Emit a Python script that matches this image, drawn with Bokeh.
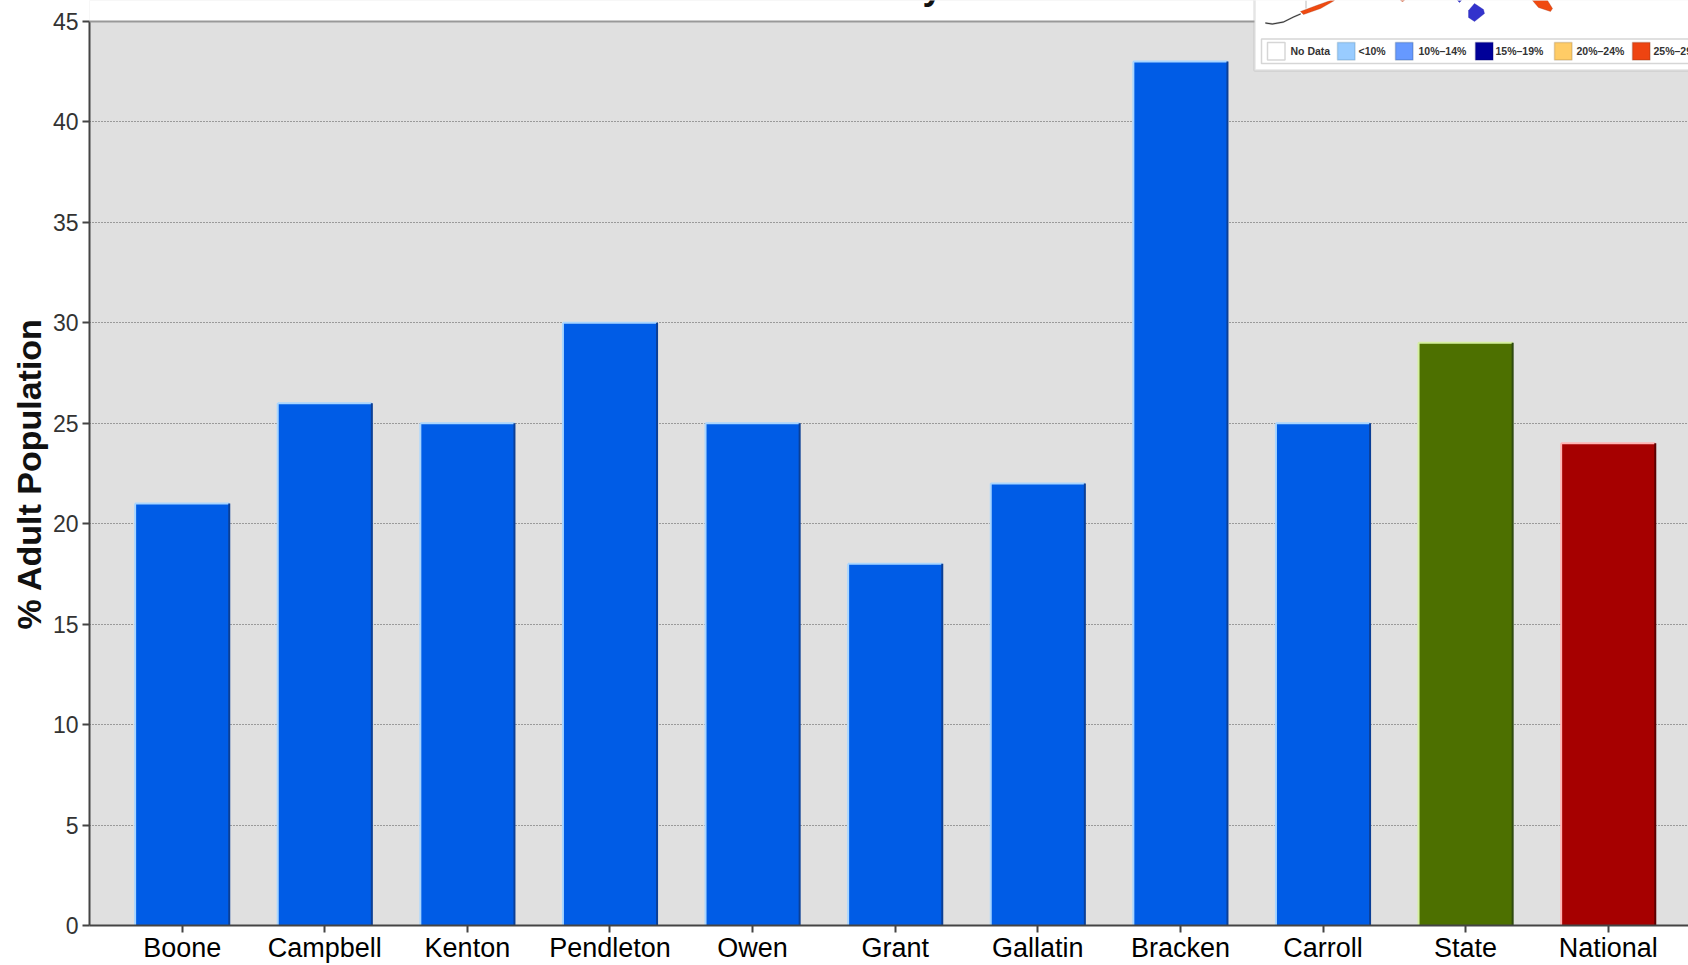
from bokeh.embed import file_html
from bokeh.models import ColumnDataSource, FixedTicker, Label, PolyAnnotation, Range1d, Span, Title
from bokeh.plotting import figure
from bokeh.resources import INLINE

# Chart values
counties = ["Boone", "Campbell", "Kenton", "Pendleton", "Owen", "Grant",
            "Gallatin", "Bracken", "Carroll", "State", "National"]
percent_adults = [21, 26, 25, 30, 25, 18, 22, 43, 25, 29, 24]
fill_colors = ["#005ce6"] * 9 + ["#4d7000", "#a60000"]
light_edges = ["#a9d6ff"] * 9 + ["#d6f0a0", "#ffb4b4"]
dark_edges = ["#0b3f96"] * 9 + ["#2f4a10", "#5c0000"]
y_ticks = [0, 5, 10, 15, 20, 25, 30, 35, 40, 45]
grid_ticks = [5, 10, 15, 20, 25, 30, 35, 40]

# Inset map legend
legend_labels = ["No Data", "<10%", "10%–14%", "15%–19%", "20%–24%", "25%–29%"]
legend_fills = ["#ffffff", "#99ccff", "#6699ff", "#000099", "#ffcc66", "#ee4411"]
legend_borders = ["#777777", "#5588aa", "#335588", "#000066", "#997744", "#883311"]
legend_swatch_x = [1267, 1337, 1395, 1475, 1554, 1632]
legend_text_x = [1290, 1358, 1418, 1495, 1576, 1653]

# Inset map fragments that remain in view
map_shapes = [
    ("#f04a10", "#a03010", [1300, 1316, 1330, 1334, 1320, 1303], [11, 5, 0, 0, 8, 14]),
    ("#3333cc", "#2222aa", [1468, 1474, 1483, 1484, 1474, 1468], [10, 3, 9, 13, 21, 17]),
    ("#f04a10", "#a03010", [1532, 1538, 1550, 1552, 1547], [0, 7, 11, 8, 0]),
    ("#f04a10", "#a03010", [1400, 1404, 1402], [0, 0, 1]),
    ("#3333cc", "#2222aa", [1457, 1461, 1459], [0, 0, 2]),
]
island_chain_x = [1265, 1272, 1283, 1293, 1300]
island_chain_y = [22, 23, 21, 16, 13]

W, H = 1688, 965
LEFT, BOTTOM = 89, 38
X_START, X_END = -0.65, 10.563
Y_TOP = 46.04  # the plot's frame runs to the page top; the strip above 45 is painted white

positions = list(range(len(counties)))
bar_half = 0.33
source = ColumnDataSource(dict(
    x=positions,
    left=[i - bar_half for i in positions],
    right=[i + bar_half for i in positions],
    base=[0] * len(positions),
    top=percent_adults,
    fill=fill_colors,
    light=light_edges,
    dark=dark_edges,
))

p = figure(width=W, height=H, output_backend="svg", toolbar_location=None,
           x_range=Range1d(X_START, X_END), y_range=Range1d(0, Y_TOP),
           min_border_left=LEFT, min_border_right=0,
           min_border_top=0, min_border_bottom=BOTTOM,
           background_fill_color="#e0e0e0", border_fill_color="#ffffff")
p.outline_line_color = None

# Grid
p.xgrid.visible = False
p.ygrid.ticker = FixedTicker(ticks=grid_ticks)
p.ygrid.grid_line_color = "#555555"
p.ygrid.grid_line_dash = "1 2"
p.ygrid.grid_line_width = 1

# White strip above the plot area
p.quad(left=[X_START - 1], right=[X_END + 1], bottom=[45], top=[Y_TOP + 1],
       fill_color="#ffffff", line_color=None)
p.add_layout(Span(location=45, dimension="width", line_color="#999999", line_width=2))

# Bars with bevelled edges
p.vbar(x="x", width=2 * bar_half, bottom="base", top="top", fill_color="fill",
       line_color=None, source=source)
p.segment(x0="left", y0="base", x1="left", y1="top", line_color="light", line_width=2, source=source)
p.segment(x0="left", y0="top", x1="right", y1="top", line_color="light", line_width=2, source=source)
p.segment(x0="right", y0="base", x1="right", y1="top", line_color="dark", line_width=2, source=source)

# Axes
p.yaxis.bounds = (0, 45)
p.yaxis.ticker = FixedTicker(ticks=y_ticks)
p.yaxis.major_label_text_font = "Liberation Sans"
p.yaxis.major_label_text_font_size = "23px"
p.yaxis.major_label_text_color = "#333333"
p.yaxis.major_label_standoff = 4
p.yaxis.major_tick_out = 7
p.yaxis.major_tick_in = 0
p.yaxis.minor_tick_line_color = None
p.yaxis.axis_line_color = "#444444"
p.yaxis.axis_line_width = 2
p.yaxis.major_tick_line_color = "#444444"
p.yaxis.major_tick_line_width = 2

p.xaxis.ticker = FixedTicker(ticks=positions)
p.xaxis.major_label_overrides = {i: name for i, name in enumerate(counties)}
p.xaxis.major_label_text_font = "Liberation Sans"
p.xaxis.major_label_text_font_size = "27px"
p.xaxis.major_label_text_color = "#000000"
p.xaxis.major_label_standoff = 0
p.xaxis.major_tick_out = 7
p.xaxis.major_tick_in = 0
p.xaxis.minor_tick_line_color = None
p.xaxis.axis_line_color = "#444444"
p.xaxis.axis_line_width = 2
p.xaxis.major_tick_line_color = "#444444"
p.xaxis.major_tick_line_width = 2

# Vertical axis title, positioned along the 0-45 span
p.add_layout(Title(text="% Adult Population", align="left", offset=296,
                   text_font="Liberation Sans", text_font_size="34px",
                   text_font_style="bold", text_color="#111111", standoff=4), "left")


def poly(xs, ys, fill, line=None, width=1.0):
    """Add a polygon placed in page pixels, measured from the top left."""
    p.add_layout(PolyAnnotation(xs=xs, ys=ys, xs_units="canvas", ys_units="canvas",
                                fill_color=fill, fill_alpha=1.0 if fill else 0.0,
                                line_color=line, line_width=width, level="overlay",
                                editable=False))


def rect(x0, y0, x1, y1, fill, line=None, width=1.0):
    poly([x0, x1, x1, x0], [y0, y0, y1, y1], fill, line, width)


def text(x, y, s, size, color="#222222", style="bold", align="left", baseline="middle"):
    p.add_layout(Label(x=x, y=y, x_units="canvas", y_units="canvas", text=s,
                       text_font="Liberation Sans", text_font_size=size,
                       text_font_style=style, text_color=color,
                       text_align=align, text_baseline=baseline, level="overlay"))


# Chart heading, mostly above the page edge
text(942, -14.5, "Kentucky", "36px", color="#111111", align="right", baseline="alphabetic")

# Inset panel
rect(1254, -4, W + 6, 70, "#ffffff", "#aaaaaa", 2.5)
for color, edge, xs, ys in map_shapes:
    poly(xs, ys, color, edge, 1.0)
poly(island_chain_x + island_chain_x[::-1],
     island_chain_y + [v + 1 for v in island_chain_y[::-1]], "#333333", "#333333", 1.0)
rect(1305, 0, 1306, 8, "#bbbbbb")

# Inset legend
rect(1261, 38.5, W + 6, 63, "#ffffff", "#777777", 1.5)
for sx, fill, border, label, tx in zip(legend_swatch_x, legend_fills, legend_borders,
                                       legend_labels, legend_text_x):
    rect(sx, 42, sx + 17.5, 59.5, fill, border, 1.5)
    text(tx, 50, label, "10.5px", color="#333333")

open("out.html", "w").write(file_html(p, INLINE))
